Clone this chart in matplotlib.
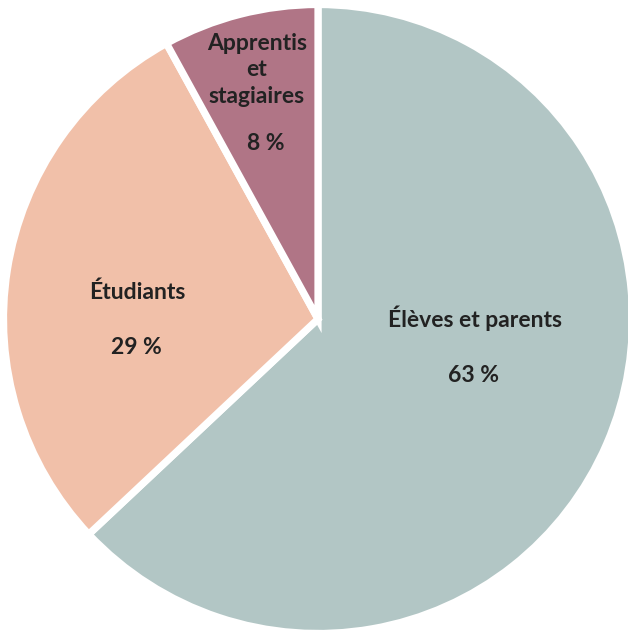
import matplotlib
matplotlib.use("Agg")
import matplotlib.pyplot as plt

# share of requests by user group
labels = ["Élèves et parents", "Étudiants", "Apprentis\net\nstagiaires"]
shares = [63, 29, 8]
colors = ["#b2c6c5", "#f1c0a9", "#b07586"]

# label anchor points (pixel offsets from the pie centre, y down)
name_pos = [(157, -1), (-181, -27), (-61, -249)]
pct_pos = [(156, 56), (-182, 28), (-52, -176)]

W, H, DPI = 628, 632, 100
CX, CY = 318, 319          # pie centre in pixels from the top-left
S = 314.5                  # pixels per data unit

fig = plt.figure(figsize=(W / DPI, H / DPI), dpi=DPI)
ax = fig.add_axes([0, 0, 1, 1])
ax.pie(shares, colors=colors, startangle=90, counterclock=False, radius=1,
       wedgeprops=dict(edgecolor="white", linewidth=5.2))
ax.set_xlim(-CX / S, (W - CX) / S)
ax.set_ylim(-(H - CY) / S, CY / S)
ax.set_aspect("auto")
ax.axis("off")

font = dict(family="Lato", fontweight="bold", color="#222222", fontsize=16.5)
for lab, share, (nx, ny), (px, py) in zip(labels, shares, name_pos, pct_pos):
    ax.text(nx / S, -ny / S, lab, ha="center", va="center",
            linespacing=1.32, **font)
    ax.text(px / S, -py / S, f"{share} %", ha="center", va="center", **font)

fig.savefig("out.png", dpi=DPI)
